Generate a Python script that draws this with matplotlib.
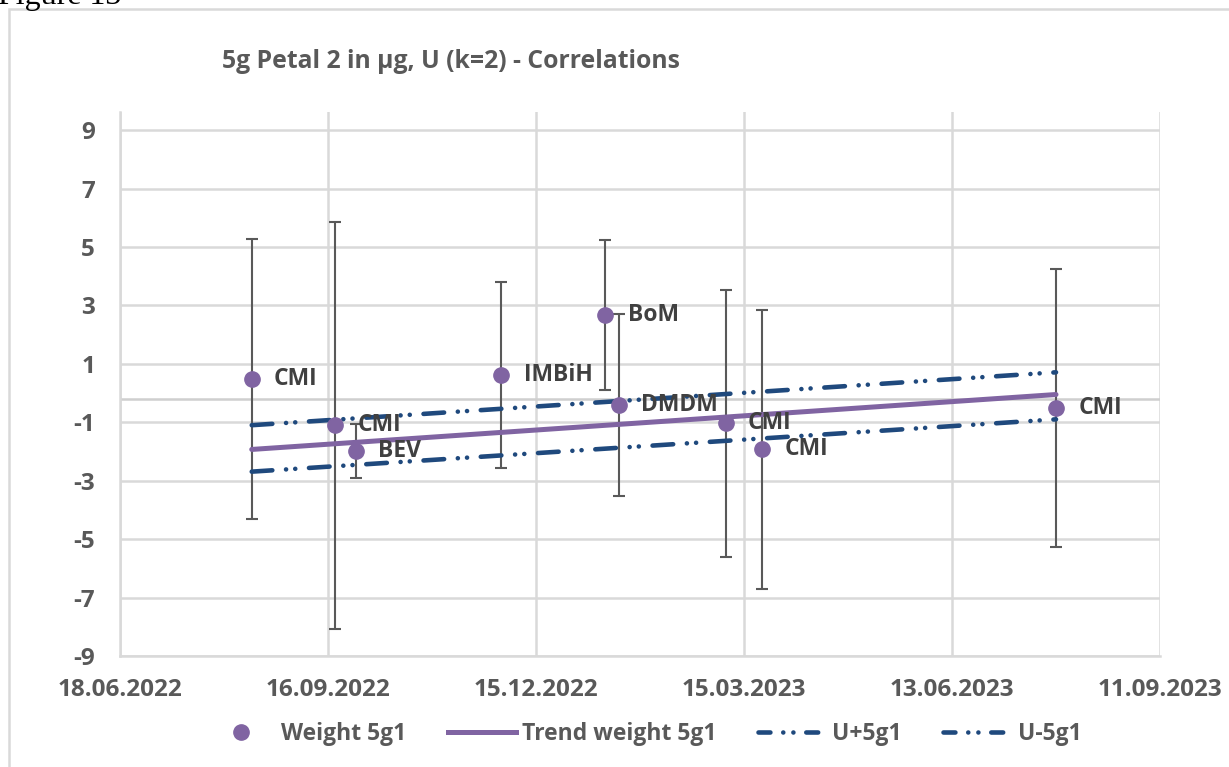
import datetime as dt

import matplotlib
matplotlib.use("Agg")
import matplotlib.pyplot as plt
import matplotlib.dates as mdates
from matplotlib.lines import Line2D
from matplotlib.patches import Rectangle

# measurement dates, lab labels, weight (µg) and expanded uncertainty U (k=2)
dates = ["2022-08-14", "2022-09-19", "2022-09-28", "2022-11-30", "2023-01-14",
         "2023-01-20", "2023-03-07", "2023-03-23", "2023-07-28"]
labs = ["CMI", "CMI", "BEV", "IMBiH", "BoM", "DMDM", "CMI", "CMI", "CMI"]
weight = [0.48, -1.10, -1.98, 0.62, 2.67, -0.41, -1.03, -1.92, -0.50]
unc = [4.78, 6.97, 0.92, 3.18, 2.58, 3.10, 4.57, 4.77, 4.76]

# trend and U band, start / end values
trend_dates = ["2022-08-14", "2023-07-28"]
trend = [-1.93, -0.05]
u_plus = [-1.10, 0.71]
u_minus = [-2.69, -0.90]

xticks = ["2022-06-18", "2022-09-16", "2022-12-15", "2023-03-15", "2023-06-13", "2023-09-11"]
yticks = [9, 7, 5, 3, 1, -1, -3, -5, -7, -9]

PURPLE = "#8064A2"
NAVY = "#1F497D"
GREY = "#595959"
GRID = "#D9D9D9"
FONT = "Open Sans"


def to_dt(s):
    return [dt.datetime.strptime(d, "%Y-%m-%d") for d in s]


plt.rcParams["font.family"] = [FONT, "DejaVu Sans"]
plt.rcParams["font.weight"] = "bold"
plt.rcParams["axes.unicode_minus"] = False

fig = plt.figure(figsize=(12.29, 7.67), dpi=100)
W, H = 1229, 767
ax = fig.add_axes([120 / W, 1 - 656 / H, 1040 / W, 544 / H])

x = to_dt(dates)
xt = to_dt(xticks)
tx = to_dt(trend_dates)

dash = (0, (4.5, 3.0, 0.01, 2.0, 0.01, 3.0))

ax.errorbar(x, weight, yerr=unc, fmt="none", ecolor=GREY, elinewidth=1.5,
            capsize=4.3, capthick=1.5, zorder=3)
ax.plot(tx, u_plus, color=NAVY, lw=3.3, ls=dash, dash_capstyle="round", zorder=4)
ax.plot(tx, u_minus, color=NAVY, lw=3.3, ls=dash, dash_capstyle="round", zorder=4)
ax.plot(tx, trend, color=PURPLE, lw=3.6, solid_capstyle="round", zorder=5)
ax.plot(x, weight, "o", color=PURPLE, ms=11, zorder=6)

for xi, yi, lab in zip(x, weight, labs):
    ax.annotate(lab, (xi, yi), xytext=(16, 0), textcoords="offset points",
                ha="left", va="center", fontsize=16.5, color="#404040",
                fontweight="bold", zorder=7)

ax.set_xlim(xt[0], xt[-1])
ax.set_ylim(-9, 9.62)
ax.set_xticks(xt)
ax.xaxis.set_major_formatter(mdates.DateFormatter("%d.%m.%Y"))
ax.set_yticks(yticks)
ax.tick_params(length=0, labelsize=17.5, labelcolor=GREY)
ax.tick_params(axis="x", pad=16)
ax.tick_params(axis="y", pad=18)
for lab in ax.get_xticklabels() + ax.get_yticklabels():
    lab.set_fontweight("bold")

ax.grid(True, color=GRID, lw=1.8)
ax.set_axisbelow(True)
for s in ["top", "right"]:
    ax.spines[s].set_visible(False)
for s in ["left", "bottom"]:
    ax.spines[s].set_color(GRID)
    ax.spines[s].set_linewidth(1.8)
ax.axhline(-0.22, color="#CFCFCF", lw=1.8, zorder=1)

fig.text(222 / W, 1 - 62 / H, "5g Petal 2 in µg, U (k=2) - Correlations",
         ha="left", va="center", fontsize=17.8, color=GREY, fontweight="bold")

# chart area border and the cut-off caption above it
fig.patches.append(Rectangle((9 / W, -0.1), 1.2, 1.1 - 9 / H, transform=fig.transFigure,
                             fill=False, ec=GRID, lw=1.8))
fig.text(-2 / W, 1 - 4 / H, "Figure 13", ha="left", va="baseline", fontsize=23,
         family="Liberation Serif", fontweight="normal", color="black")

leg_dash = (0, (2.6, 2.8, 0.01, 2.2, 0.01, 2.8))
handles = [
    Line2D([], [], ls="none", marker="o", color=PURPLE, ms=11),
    Line2D([], [], color=PURPLE, lw=3.6),
    Line2D([], [], color=NAVY, lw=3.3, ls=leg_dash, dash_capstyle="round"),
    Line2D([], [], color=NAVY, lw=3.3, ls=leg_dash, dash_capstyle="round"),
]
names = ["Weight 5g1", "Trend weight 5g1", "U+5g1", "U-5g1"]
leg = fig.legend(handles, names, loc="center", bbox_to_anchor=(644 / W, 1 - 734 / H),
                 ncol=4, frameon=False, fontsize=16.5, handlelength=3.0,
                 handletextpad=0.25, columnspacing=1.8)
for t in leg.get_texts():
    t.set_color(GREY)
    t.set_fontweight("bold")

fig.savefig("out.png", dpi=100)
